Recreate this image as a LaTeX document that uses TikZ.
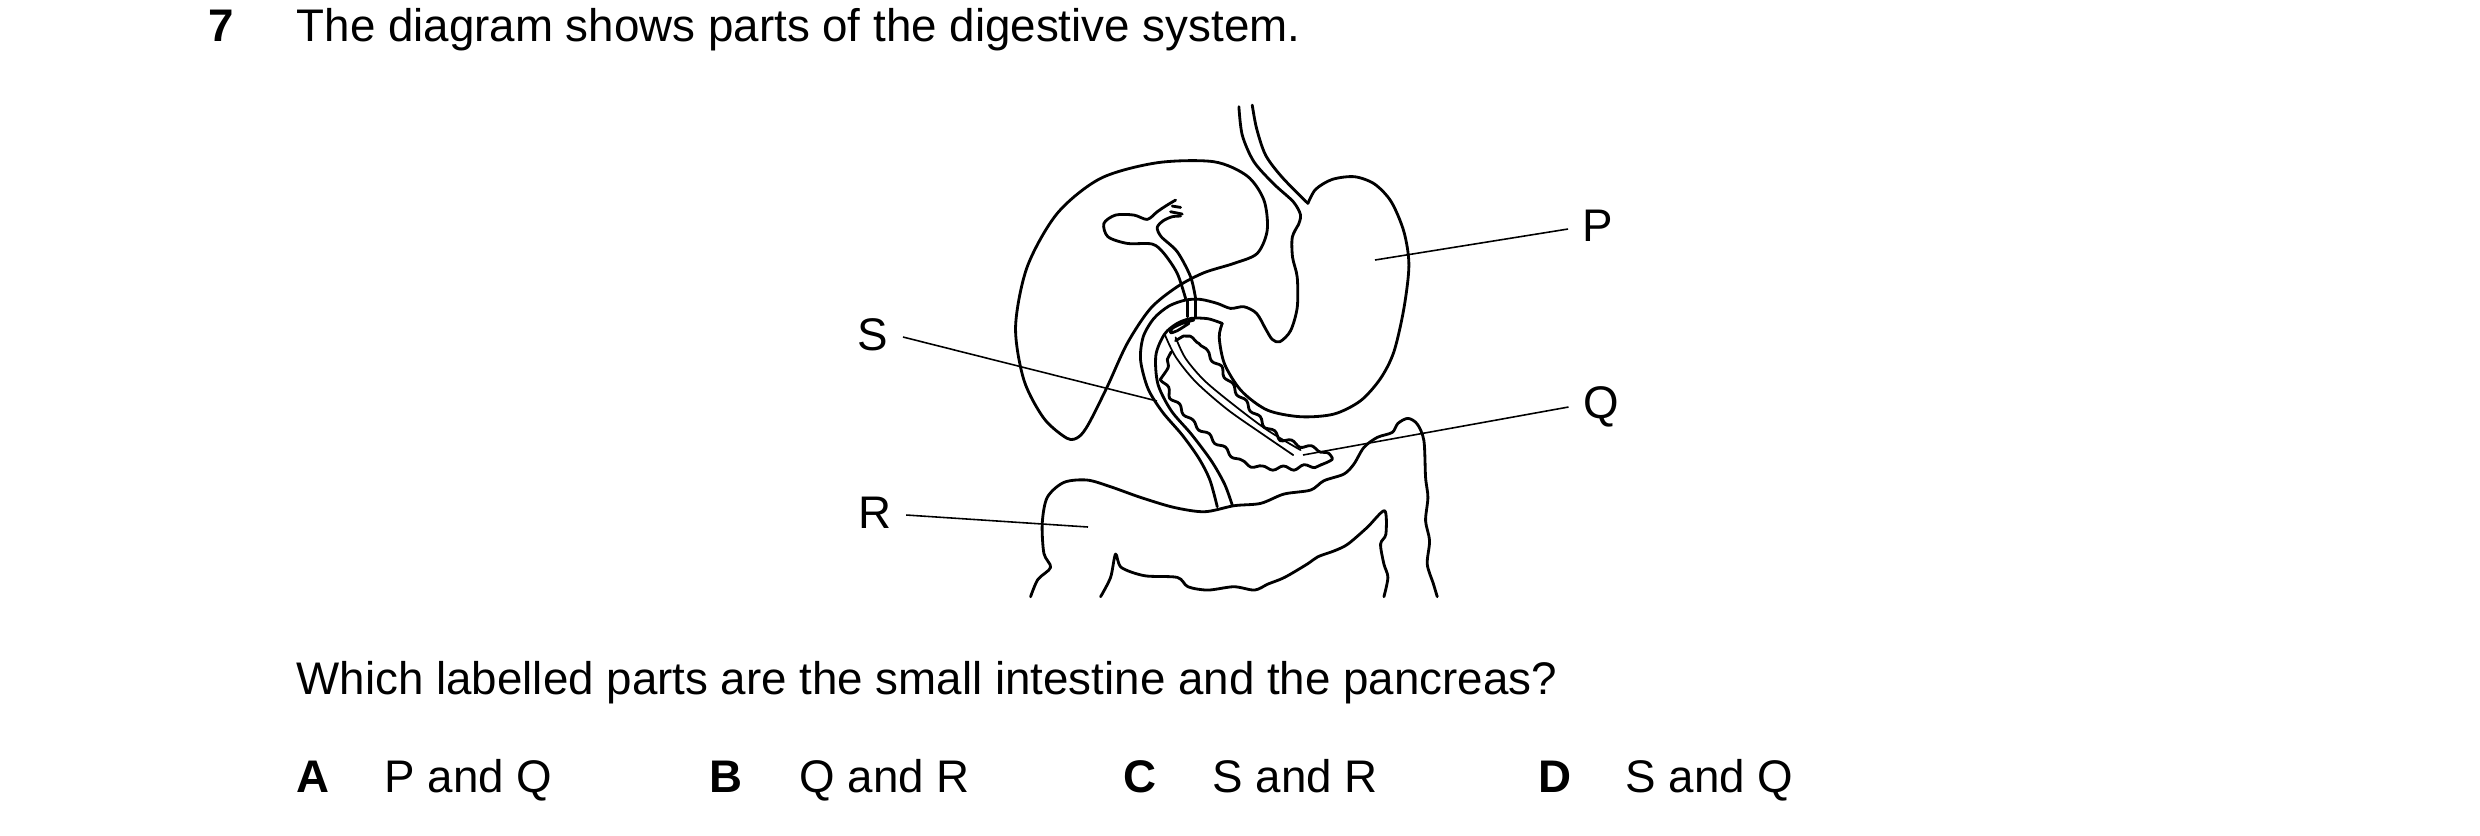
\documentclass[tikz,border=0pt]{standalone}
\usepackage{fontspec}
\setmainfont{Liberation Sans}
\usetikzlibrary{decorations.pathmorphing}
\begin{document}
\begin{tikzpicture}[x=0.01cm,y=-0.01cm,
  organ/.style={line width=0.8pt,line join=round,line cap=round},
  wavy/.style={organ,decorate,decoration={snake,segment length=6pt,amplitude=0.6pt}},
  lbl/.style={line width=0.45pt},
  txt/.style={font=\fontsize{13pt}{15pt}\selectfont,inner sep=0pt}]
\useasboundingbox (0,0) rectangle (2480,835);
% text
\node[txt,anchor=base west,font=\fontsize{13pt}{15pt}\selectfont\bfseries] (num) at (208,41) {7};
\node[txt,anchor=base west] (title) at (296,41) {The diagram shows parts of the digestive system.};
\node[txt,anchor=base west] (q) at (296,694) {Which labelled parts are the small intestine and the pancreas?};
\node[txt,anchor=base west,font=\fontsize{13pt}{15pt}\selectfont\bfseries] (oa) at (296,792) {A};
\node[txt,anchor=base west] (ta) at (384,792) {P and Q};
\node[txt,anchor=base west,font=\fontsize{13pt}{15pt}\selectfont\bfseries] (ob) at (709,792) {B};
\node[txt,anchor=base west] (tb) at (799,792) {Q and R};
\node[txt,anchor=base west,font=\fontsize{13pt}{15pt}\selectfont\bfseries] (oc) at (1123,792) {C};
\node[txt,anchor=base west] (tc) at (1212,792) {S and R};
\node[txt,anchor=base west,font=\fontsize{13pt}{15pt}\selectfont\bfseries] (od) at (1538,792) {D};
\node[txt,anchor=base west] (td) at (1625,792) {S and Q};
% labels
\node[txt] (P) at (1598,226) {P};
\node[txt] (Q) at (1601,407) {Q};
\node[txt] (S) at (873,335) {S};
\node[txt] (R) at (875,513) {R};
\coordinate (pe) at (1375,260);
\coordinate (qe) at (1303,455);
\coordinate (se) at (1157,401);
\coordinate (re) at (1088,527);
\draw[lbl] (P.west)++(-14,3) -- (pe);
\draw[lbl] (Q.west)++(-14,0) -- (qe);
\draw[lbl] (S.east)++(14,2) -- (se);
\draw[lbl] (R.east)++(14,2) -- (re);
\begin{scope}[shift={(10cm,-0.9cm)},x=0.01cm/3,y=-0.01cm/3]
% liver
\draw[organ] plot[smooth cycle] coordinates {(200,1045)(130,985)(70,870)(45,710)(80,530)(170,370)(300,265)(470,218)(640,215)(740,258)(790,330)(800,420)(770,490)(700,520)(610,548)(530,590)(450,655)(380,760)(320,890)(265,1000)(235,1040)};
% gallbladder and bile duct
\draw[organ] plot[smooth] coordinates {(555,625)(530,550)(490,490)(455,462)(380,460)(322,440)(310,400)(345,375)(400,375)(440,388)(470,365)(495,348)(525,330)};
\draw[organ] plot[smooth] coordinates {(585,625)(570,560)(530,485)(482,440)(470,412)(488,392)(515,380)(540,378)};
\draw[organ] (515,348) -- (540,352);
\draw[organ] (510,365) -- (545,372);
\draw[organ,dash pattern=on 5pt off 3pt] (560,630) -- (560,680);
\draw[organ,dash pattern=on 5pt off 3pt] (585,630) -- (585,680);
% oesophagus
\draw[organ] plot[smooth] coordinates {(715,50)(725,135)(760,215)(820,282)(878,335)(900,375)(893,405)};
\draw[organ] plot[smooth] coordinates {(755,45)(768,115)(795,195)(845,262)(922,340)};
% stomach greater curvature
\draw[organ] plot[smooth] coordinates {(922,340)(945,298)(995,268)(1062,260)(1122,282)(1172,335)(1210,425)(1225,525)(1210,655)(1180,785)(1140,865)(1080,932)(1000,972)(900,980)(800,960)(722,902)(672,822)(656,742)(665,700)};
% lesser curvature + duodenum outer
\draw[organ] plot[smooth] coordinates {(893,405)(875,442)(876,502)(890,562)(890,652)(870,722)(838,755)(815,748)(796,718)(768,670)(730,650)(690,655)(650,640)(600,628)(555,630)(505,648)(460,685)(428,740)(420,810)(442,895)(485,965)(545,1035)(595,1105)(628,1170)(650,1250)};
% duodenum inner
\draw[organ] plot[smooth] coordinates {(665,700)(622,686)(572,685)(530,700)(492,732)(466,795)(472,882)(512,962)(572,1032)(632,1112)(672,1182)(695,1245)};
% bile duct entry loop
\draw[organ] plot[smooth] coordinates {(580,690)(545,700)(515,715)(510,728)(530,722)(565,700)};
% pancreatic duct
\draw[organ,line width=0.5pt] plot[smooth] coordinates {(492,732)(525,800)(585,875)(680,958)(790,1035)(878,1095)};
\draw[organ,line width=0.5pt] plot[smooth] coordinates {(525,742)(555,805)(612,872)(700,945)(800,1020)(900,1080)};
% pancreas
\draw[wavy] (548,738) -- (578,748) -- (602,790) -- (640,832) -- (672,882) -- (712,932) -- (762,990) -- (822,1040) -- (882,1060) -- (945,1075) -- (985,1090);
\draw[organ] plot[smooth] coordinates {(525,752)(548,738)};
\draw[organ] plot[smooth] coordinates {(985,1090)(995,1108)(962,1124)};
\draw[wavy] (962,1124) -- (880,1134) -- (800,1134) -- (750,1120) -- (700,1080) -- (642,1032) -- (592,990) -- (542,930) -- (512,870) -- (500,808);
\draw[organ] (500,808) -- (512,785);
% large intestine outer
\draw[organ] plot[smooth] coordinates {(90,1520)(112,1468)(150,1432)(130,1390)(125,1300)(140,1222)(190,1177)(260,1170)(330,1190)(420,1222)(520,1252)(612,1265)(700,1247)(780,1240)(850,1212)(930,1200)(970,1172)(1030,1152)(1060,1122)(1090,1072)(1130,1042)(1175,1027)(1192,1000)(1222,985)(1250,1002)(1270,1052)(1275,1162)(1282,1222)(1275,1292)(1287,1352)(1280,1422)(1298,1480)(1310,1520)};
% large intestine inner
\draw[organ] plot[smooth] coordinates {(300,1520)(330,1462)(345,1392)(362,1432)(432,1457)(530,1462)(562,1490)(622,1500)(700,1490)(762,1500)(802,1482)(852,1462)(920,1422)(952,1400)(1002,1382)(1042,1362)(1100,1312)(1152,1262)(1156,1332)(1140,1362)(1150,1422)(1162,1462)(1150,1520)};
\end{scope}
\end{tikzpicture}
\end{document}
